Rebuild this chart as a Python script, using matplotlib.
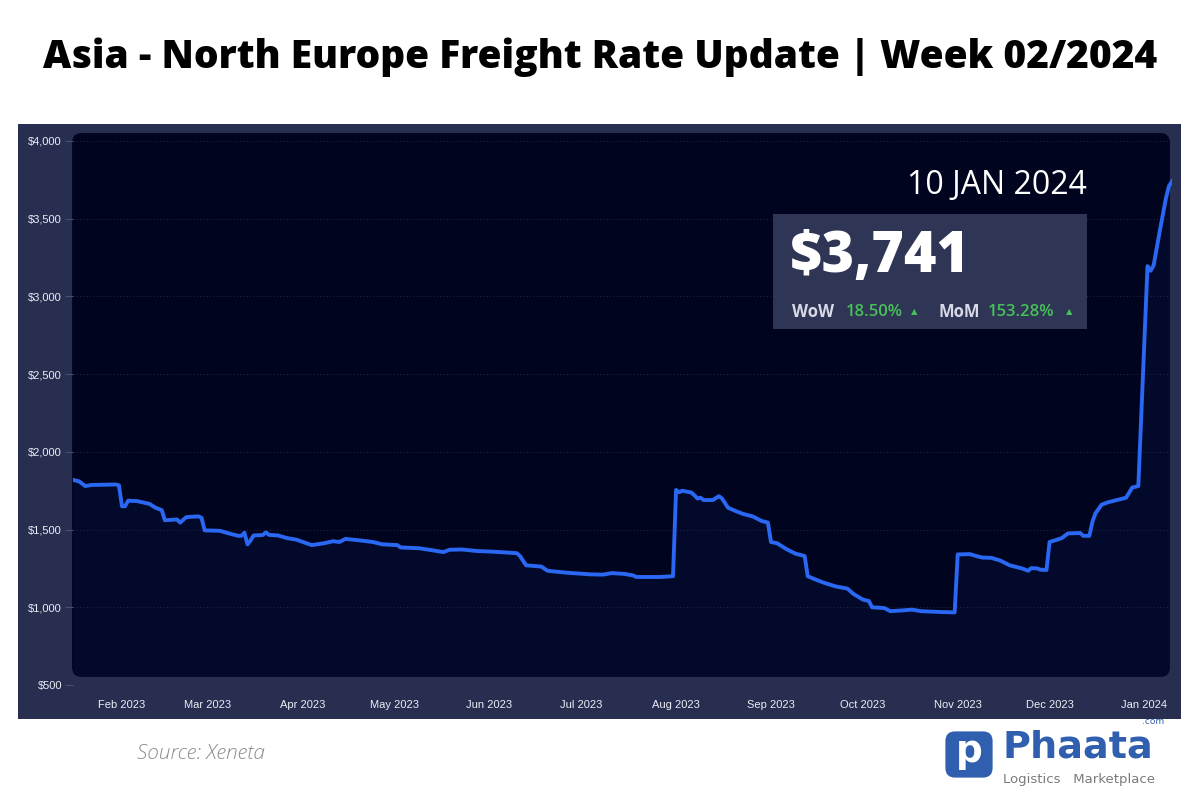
import matplotlib
matplotlib.use("Agg")
import matplotlib.pyplot as plt
import matplotlib.dates as mdates
from matplotlib.patches import FancyBboxPatch, Rectangle
import numpy as np
import pandas as pd

# data (Xeneta, Asia -> North Europe, USD / FEU)
dates = [
    "2023-01-16", "2023-01-18", "2023-01-20", "2023-01-22", "2023-01-30", "2023-01-31",
    "2023-02-01", "2023-02-02", "2023-02-03", "2023-02-06", "2023-02-10", "2023-02-12",
    "2023-02-14", "2023-02-15", "2023-02-19", "2023-02-20", "2023-02-22", "2023-02-26",
    "2023-02-27", "2023-02-28", "2023-03-05", "2023-03-08", "2023-03-11", "2023-03-12",
    "2023-03-13", "2023-03-14", "2023-03-15", "2023-03-16", "2023-03-19", "2023-03-20",
    "2023-03-21", "2023-03-24", "2023-03-27", "2023-03-30", "2023-04-04", "2023-04-08",
    "2023-04-11", "2023-04-13", "2023-04-15", "2023-04-19", "2023-04-24", "2023-04-27",
    "2023-05-02", "2023-05-03", "2023-05-09", "2023-05-14", "2023-05-17", "2023-05-19",
    "2023-05-23", "2023-05-28", "2023-06-02", "2023-06-10", "2023-06-11", "2023-06-13",
    "2023-06-18", "2023-06-20", "2023-06-25", "2023-06-28", "2023-07-04", "2023-07-08",
    "2023-07-11", "2023-07-15", "2023-07-18", "2023-07-19", "2023-07-27", "2023-07-31",
    "2023-08-01", "2023-08-02", "2023-08-03", "2023-08-06", "2023-08-07", "2023-08-08",
    "2023-08-09", "2023-08-10", "2023-08-13", "2023-08-15", "2023-08-16", "2023-08-18",
    "2023-08-21", "2023-08-23", "2023-08-26", "2023-08-29", "2023-08-31", "2023-09-01",
    "2023-09-03", "2023-09-06", "2023-09-09", "2023-09-12", "2023-09-13", "2023-09-16",
    "2023-09-18", "2023-09-22", "2023-09-26", "2023-09-28", "2023-10-01", "2023-10-03",
    "2023-10-04", "2023-10-08", "2023-10-10", "2023-10-14", "2023-10-17", "2023-10-20",
    "2023-10-26", "2023-10-31", "2023-11-01", "2023-11-05", "2023-11-07", "2023-11-09",
    "2023-11-12", "2023-11-15", "2023-11-18", "2023-11-22", "2023-11-24", "2023-11-25",
    "2023-11-27", "2023-11-28", "2023-11-30", "2023-12-01", "2023-12-03", "2023-12-05",
    "2023-12-07", "2023-12-11", "2023-12-12", "2023-12-14", "2023-12-15", "2023-12-16",
    "2023-12-18", "2023-12-20", "2023-12-23", "2023-12-26", "2023-12-28", "2023-12-30",
    "2024-01-02", "2024-01-03", "2024-01-04", "2024-01-06", "2024-01-08", "2024-01-09",
    "2024-01-10",
]
rates = [
    1820, 1810, 1780, 1787, 1790, 1785,
    1650, 1650, 1686, 1683, 1665, 1640,
    1625, 1560, 1565, 1545, 1580, 1585,
    1575, 1495, 1492, 1475, 1460, 1460,
    1480, 1405, 1430, 1462, 1465, 1482,
    1466, 1462, 1445, 1435, 1400, 1412,
    1425, 1420, 1440, 1432, 1420, 1405,
    1400, 1385, 1380, 1365, 1355, 1370,
    1372, 1362, 1358, 1348, 1330, 1270,
    1262, 1235, 1225, 1220, 1212, 1210,
    1220, 1215, 1205, 1195, 1195, 1200,
    1755, 1740, 1750, 1738, 1720, 1700,
    1705, 1690, 1690, 1715, 1700, 1640,
    1615, 1600, 1585, 1555, 1545, 1420,
    1412, 1375, 1345, 1330, 1200, 1175,
    1160, 1135, 1120, 1085, 1050, 1040,
    1000, 995, 975, 980, 985, 975,
    970, 967, 1340, 1342, 1330, 1320,
    1318, 1300, 1270, 1250, 1235, 1252,
    1250, 1242, 1240, 1420, 1432, 1445,
    1475, 1478, 1460, 1460, 1550, 1605,
    1660, 1675, 1690, 1705, 1770, 1780,
    3195, 3165, 3200, 3420, 3630, 3710,
    3741,
]
month_ticks = ["2023-02-01", "2023-03-01", "2023-04-01", "2023-05-01", "2023-06-01",
               "2023-07-01", "2023-08-01", "2023-09-01", "2023-10-01", "2023-11-01",
               "2023-12-01", "2024-01-01"]
y_ticks = [500, 1000, 1500, 2000, 2500, 3000, 3500, 4000]

title = "Asia - North Europe Freight Rate Update | Week 02/2024"
latest_date = "10 JAN 2024"
latest_rate = "$3,741"
wow = "18.50%"
mom = "153.28%"

W, H = 1200, 800
PANEL = "#272e50"
INNER = "#01041f"
LINE = "#2a67f2"
GREEN = "#47c05a"

def fx(x):
    return x / W

def fy(y):
    return 1 - y / H

fig = plt.figure(figsize=(12, 8), dpi=100)
fig.patch.set_facecolor("white")

# outer panel and inner plotting card (drawn under the axes)
fig.patches.append(Rectangle((fx(18), fy(719)), fx(1181) - fx(18), fy(124) - fy(719),
                             transform=fig.transFigure, facecolor=PANEL, edgecolor="none", zorder=-2))
inner = FancyBboxPatch((fx(80), fy(669)), fx(1162) - fx(80), fy(141) - fy(669),
                       boxstyle="round,pad=0.0066,rounding_size=0.008",
                       mutation_aspect=1.5, transform=fig.transFigure,
                       facecolor=INNER, edgecolor="none", zorder=-1)
fig.patches.append(inner)

fig.text(0.5, fy(57), title, ha="center", va="center", fontsize=28,
         fontweight=800, family="Open Sans", color="black")

ax = fig.add_axes([fx(73), fy(685), fx(1172) - fx(73), fy(141) - fy(685)])
ax.patch.set_alpha(0)
x = pd.to_datetime(dates)
ax.fill_between(x, rates, 500, color="#1a3c9c", alpha=0.09, lw=0, clip_path=inner)
ax.plot(x, rates, color=LINE, lw=2.8, solid_joinstyle="round", zorder=3)

ax.set_xlim(pd.Timestamp("2023-01-16"), pd.Timestamp("2024-01-10"))
ax.set_ylim(500, 4000)
ax.set_yticks(y_ticks)
ax.set_yticklabels([f"${v:,}" for v in y_ticks])
ax.set_xticks(pd.to_datetime(month_ticks))
ax.xaxis.set_major_formatter(mdates.DateFormatter("%b %Y"))
for s in ax.spines.values():
    s.set_visible(False)
ax.tick_params(axis="y", length=6, width=0.8, color="#4a5070", pad=2,
               labelsize=8, labelcolor="#eceef5")
ax.tick_params(axis="x", length=0, pad=11, labelsize=8, labelcolor="#eceef5")
for lab in ax.get_xticklabels() + ax.get_yticklabels():
    lab.set_family("Liberation Sans")
ax.grid(axis="y", color="#1d2344", ls=(0, (1, 2)), lw=0.8)
ax.set_axisbelow(True)

# latest value card
fig.text(fx(1087), fy(185), latest_date, ha="right", va="center", fontsize=23,
         family="Open Sans", color="white")
fig.patches.append(Rectangle((fx(773), fy(329)), fx(1087) - fx(773), fy(214) - fy(329),
                             transform=fig.transFigure, facecolor="#2f3554", edgecolor="none", zorder=5))
fig.text(fx(790), fy(258), latest_rate, ha="left", va="center", fontsize=40,
         fontweight="heavy", family="Open Sans", color="white", zorder=6)
fig.text(fx(792), fy(312), "WoW", ha="left", va="center", fontsize=12,
         fontweight="bold", family="Open Sans", color="#d8dae6", zorder=6)
fig.text(fx(846), fy(312), wow, ha="left", va="center", fontsize=12,
         fontweight="semibold", family="Open Sans", color=GREEN, zorder=6)
fig.text(fx(911), fy(312), "▲", ha="left", va="center", fontsize=6,
         family="DejaVu Sans", color=GREEN, zorder=6)
fig.text(fx(938), fy(312), "MoM", ha="left", va="center", fontsize=12,
         fontweight="bold", family="Open Sans", color="#d8dae6", zorder=6)
fig.text(fx(988), fy(312), mom, ha="left", va="center", fontsize=12,
         fontweight="semibold", family="Open Sans", color=GREEN, zorder=6)
fig.text(fx(1066), fy(312), "▲", ha="left", va="center", fontsize=6,
         family="DejaVu Sans", color=GREEN, zorder=6)

# footer
fig.text(fx(137), fy(754), "Source: Xeneta", ha="left", va="center", fontsize=15,
         fontstyle="italic", fontweight="light", family="Open Sans", color="#8c8c8c")

BLUE = "#2f5fae"
fig.patches.append(FancyBboxPatch((fx(949), fy(774)), fx(989) - fx(949), fy(735) - fy(774),
                                  boxstyle="round,pad=0.003,rounding_size=0.008",
                                  mutation_aspect=1.5, transform=fig.transFigure,
                                  facecolor=BLUE, edgecolor="none"))
fig.text(fx(969), fy(752), "p", ha="center", va="center", fontsize=27,
         fontweight="bold", family="DejaVu Sans", color="white")
fig.text(fx(1002), fy(748), "Phaata", ha="left", va="center", fontsize=27.5,
         fontweight="bold", family="DejaVu Sans", color=BLUE)
fig.text(fx(1164), fy(721), ".com", ha="right", va="center", fontsize=6.5,
         family="DejaVu Sans", color=BLUE)
fig.text(fx(1003), fy(779), "Logistics   Marketplace", ha="left", va="center", fontsize=9.5,
         family="DejaVu Sans", color="#7a7a7a")

fig.savefig("out.png", dpi=100, facecolor="white")
